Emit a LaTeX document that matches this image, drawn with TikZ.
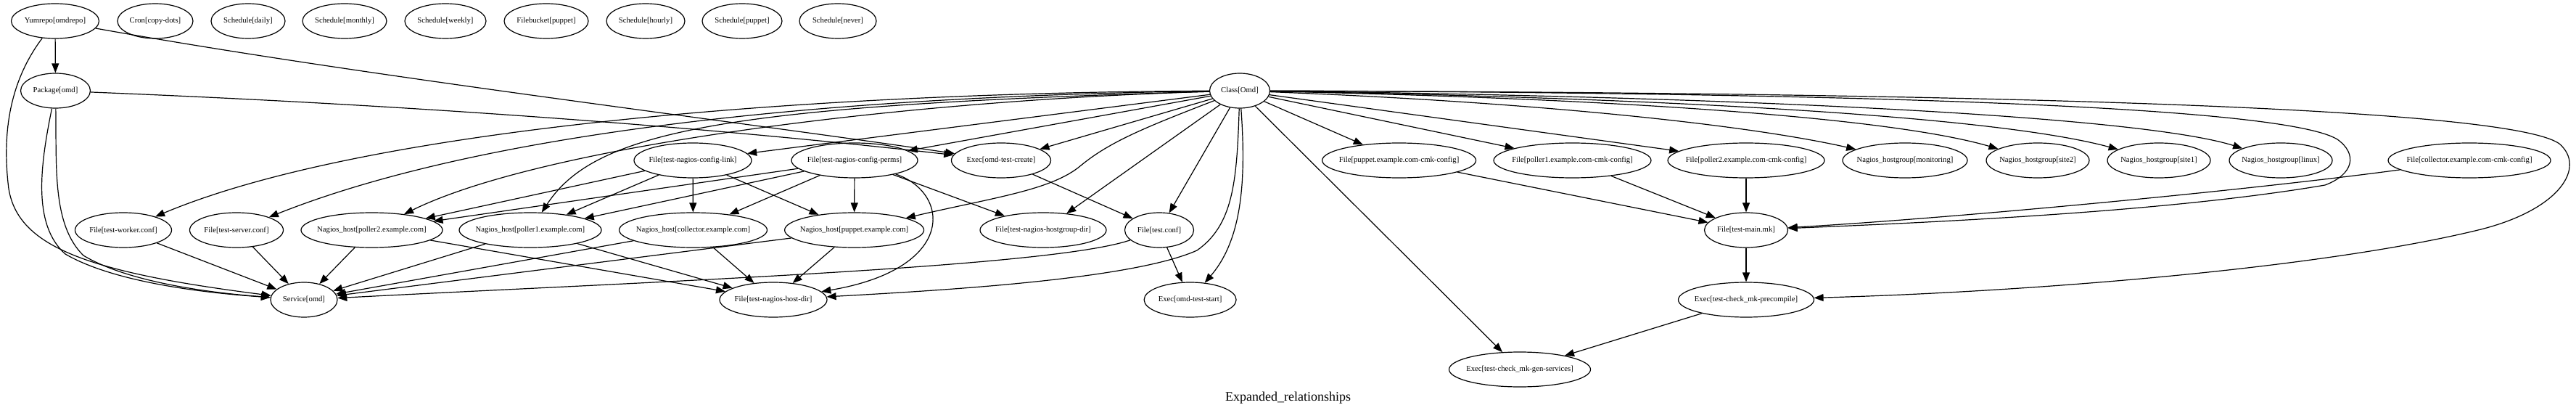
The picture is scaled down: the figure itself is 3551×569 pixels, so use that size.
\documentclass[tikz,border=0pt]{standalone}
\usepackage{fontspec}
\setmainfont{Liberation Serif}
\usetikzlibrary{shapes.geometric,arrows.meta}
\newcommand{\zlbl}[1]{\makebox[0pt]{#1}}
\begin{document}
\begin{tikzpicture}[x=1pt,y=-1pt,
  nd/.style={draw, ellipse, line width=1.2pt, minimum height=48pt, inner sep=0pt, font=\fontsize{10.67}{12}\selectfont},
  e/.style={-{Triangle[length=13pt,width=10pt]}, line width=1.2pt},
  ttl/.style={font=\fontsize{18}{20}\selectfont, inner sep=0pt}]
\useasboundingbox (0,0) rectangle (3551,569);
% row 1
\node[nd,minimum width=121pt] (yum) at (76,29) {\zlbl{Yumrepo[omdrepo]}};
\node[nd,minimum width=104pt] (cron) at (214,29) {\zlbl{Cron[copy-dots]}};
\node[nd,minimum width=102pt] (sdaily) at (342,29) {\zlbl{Schedule[daily]}};
\node[nd,minimum width=116pt] (smonthly) at (475,29) {\zlbl{Schedule[monthly]}};
\node[nd,minimum width=112pt] (sweekly) at (614,29) {\zlbl{Schedule[weekly]}};
\node[nd,minimum width=116pt] (fbucket) at (753,29) {\zlbl{Filebucket[puppet]}};
\node[nd,minimum width=108pt] (shourly) at (890,29) {\zlbl{Schedule[hourly]}};
\node[nd,minimum width=110pt] (spuppet) at (1023,29) {\zlbl{Schedule[puppet]}};
\node[nd,minimum width=106pt] (snever) at (1155,29) {\zlbl{Schedule[never]}};
% row 2
\node[nd,minimum width=96pt] (pkg) at (76.5,125) {\zlbl{Package[omd]}};
\node[nd,minimum width=83pt] (cls) at (1709,125) {\zlbl{Class[Omd]}};
% row 3
\node[nd,minimum width=162pt] (cfglink) at (955,221) {\zlbl{File[test-nagios-config-link]}};
\node[nd,minimum width=174pt] (cfgperms) at (1178,221) {\zlbl{File[test-nagios-config-perms]}};
\node[nd,minimum width=137pt] (create) at (1380,221) {\zlbl{Exec[omd-test-create]}};
\node[nd,minimum width=212pt] (puppetcmk) at (1928.6,221) {\zlbl{File[puppet.example.com-cmk-config]}};
\node[nd,minimum width=217pt] (poller1cmk) at (2167.5,221) {\zlbl{File[poller1.example.com-cmk-config]}};
\node[nd,minimum width=216pt] (poller2cmk) at (2407,221) {\zlbl{File[poller2.example.com-cmk-config]}};
\node[nd,minimum width=172pt] (hgmon) at (2626,221) {\zlbl{Nagios\_hostgroup[monitoring]}};
\node[nd,minimum width=142pt] (hgsite2) at (2809,221) {\zlbl{Nagios\_hostgroup[site2]}};
\node[nd,minimum width=142pt] (hgsite1) at (2976,221) {\zlbl{Nagios\_hostgroup[site1]}};
\node[nd,minimum width=142pt] (hglinux) at (3144,221) {\zlbl{Nagios\_hostgroup[linux]}};
\node[nd,minimum width=224pt] (collcmk) at (3404,221) {\zlbl{File[collector.example.com-cmk-config]}};
% row 4
\node[nd,minimum width=133pt] (worker) at (170,317) {\zlbl{File[test-worker.conf]}};
\node[nd,minimum width=129pt] (server) at (326,317) {\zlbl{File[test-server.conf]}};
\node[nd,minimum width=195pt] (nhp2) at (512.5,317) {\zlbl{Nagios\_host[poller2.example.com]}};
\node[nd,minimum width=196pt] (nhp1) at (731,317) {\zlbl{Nagios\_host[poller1.example.com]}};
\node[nd,minimum width=204pt] (nhcoll) at (955.5,317) {\zlbl{Nagios\_host[collector.example.com]}};
\node[nd,minimum width=192pt] (nhpup) at (1177.6,317) {\zlbl{Nagios\_host[puppet.example.com]}};
\node[nd,minimum width=174pt] (hgdir) at (1438,317) {\zlbl{File[test-nagios-hostgroup-dir]}};
\node[nd,minimum width=95pt] (testconf) at (1598,317) {\zlbl{File[test.conf]}};
\node[nd,minimum width=115pt] (mainmk) at (2407,317) {\zlbl{File[test-main.mk]}};
% row 5
\node[nd,minimum width=92pt] (service) at (419,413) {\zlbl{Service[omd]}};
\node[nd,minimum width=148pt] (hostdir) at (1066,413) {\zlbl{File[test-nagios-host-dir]}};
\node[nd,minimum width=127pt] (start) at (1640.6,413) {\zlbl{Exec[omd-test-start]}};
\node[nd,minimum width=187pt] (precompile) at (2407,413) {\zlbl{Exec[test-check\_mk-precompile]}};
% row 6
\node[nd,minimum width=195pt] (gensvc) at (2095,509) {\zlbl{Exec[test-check\_mk-gen-services]}};
% title
\node[ttl] (title) at (1775.5,548) {Expanded\_relationships};

% edges from Yumrepo and Package
\draw[e] (yum) -- (pkg);
\draw[e] (yum) .. controls (500,105) and (1000,165) .. (create);
\draw[e] (pkg) .. controls (600,146) and (1000,178) .. (create);
\draw[e] (yum) .. controls (15,110) and (2,180) .. (12,260) .. controls (25,340) and (120,375) .. (service);
\draw[e] (pkg) .. controls (55,230) and (45,310) .. (90,350) .. controls (150,385) and (260,402) .. (service);
\draw[e] (pkg) .. controls (78,230) and (72,310) .. (115,352) .. controls (170,385) and (270,402) .. (service);

% edges from Class[Omd] to the left
\draw[e] (cls) .. controls (1100,128) and (500,178) .. (worker);
\draw[e] (cls) .. controls (1100,133) and (650,188) .. (server);
\draw[e] (cls) .. controls (1250,138) and (750,200) .. (nhp2);
\draw[e] (cls) .. controls (1000,145) and (820,180) .. (nhp1);
\draw[e] (cls) -- (cfglink);
\draw[e] (cls) -- (cfgperms);
\draw[e] (cls) -- (create);
\draw[e] (cls) .. controls (1580,175) and (1530,195) .. (1490,228) .. controls (1450,262) and (1370,272) .. (nhpup);
\draw[e] (cls) -- (hgdir);
\draw[e] (cls) -- (testconf);
\draw[e] (cls) .. controls (1705,250) and (1700,310) .. (1650,345) .. controls (1560,385) and (1300,400) .. (hostdir);
\draw[e] (cls) .. controls (1718,250) and (1712,330) .. (start);

% config link / perms
\draw[e] (cfglink) -- (nhp2);
\draw[e] (cfglink) -- (nhp1);
\draw[e] (cfglink) -- (nhcoll);
\draw[e] (cfglink) -- (nhpup);
\draw[e] (cfgperms) -- (nhp2);
\draw[e] (cfgperms) -- (nhp1);
\draw[e] (cfgperms) -- (nhcoll);
\draw[e] (cfgperms) -- (nhpup);
\draw[e] (cfgperms) -- (hgdir);
\draw[e] (cfgperms) .. controls (1310,265) and (1320,370) .. (hostdir);
\draw[e] (create) -- (testconf);

% row 4 to row 5
\draw[e] (worker) -- (service);
\draw[e] (server) -- (service);
\draw[e] (nhp2) -- (service);
\draw[e] (nhp2) -- (hostdir);
\draw[e] (nhp1) -- (service);
\draw[e] (nhp1) -- (hostdir);
\draw[e] (nhcoll) -- (service);
\draw[e] (nhcoll) -- (hostdir);
\draw[e] (nhpup) -- (service);
\draw[e] (nhpup) -- (hostdir);
\draw[e] (testconf) .. controls (1450,368) and (900,388) .. (service);
\draw[e] (testconf) -- (start);

% edges from Class[Omd] to the right
\draw[e] (cls) -- (puppetcmk);
\draw[e] (cls) -- (poller1cmk);
\draw[e] (cls) -- (poller2cmk);
\draw[e] (cls) .. controls (2100,140) and (2400,170) .. (hgmon);
\draw[e] (cls) .. controls (2200,135) and (2600,160) .. (hgsite2);
\draw[e] (cls) .. controls (2300,135) and (2750,160) .. (hgsite1);
\draw[e] (cls) .. controls (2400,133) and (2950,160) .. (hglinux);
\draw[e] (cls) .. controls (2600,128) and (3150,148) .. (3222,192) .. controls (3250,212) and (3245,240) .. (3205,255) .. controls (3000,290) and (2700,305) .. (mainmk);
\draw[e] (cls) .. controls (2800,128) and (3460,150) .. (3528,198) .. controls (3565,230) and (3530,288) .. (3420,316) .. controls (3200,370) and (2800,402) .. (precompile);
\draw[e] (cls) -- (gensvc);

% cmk configs
\draw[e] (puppetcmk) -- (mainmk);
\draw[e] (poller1cmk) -- (mainmk);
\draw[e] (poller2cmk) -- (mainmk);
\draw[e] (collcmk) .. controls (3100,262) and (2700,300) .. (mainmk);
\draw[e] (mainmk) -- (precompile);
\draw[e] (precompile) -- (gensvc);
\end{tikzpicture}
\end{document}
